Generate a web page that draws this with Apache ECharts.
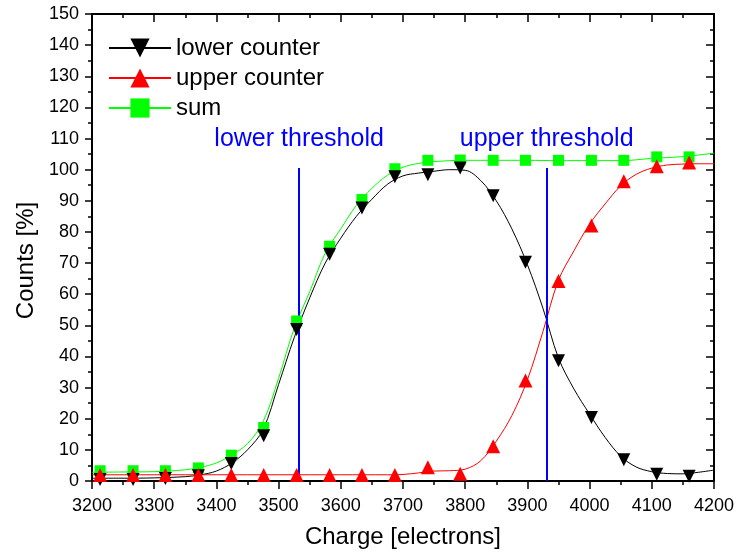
<!DOCTYPE html>
<html>
<head>
<meta charset="utf-8">
<script src="https://cdn.jsdelivr.net/npm/echarts@6/dist/echarts.min.js"></script>
<style>
  html, body { margin: 0; padding: 0; background: #fff; }
  #chart { width: 737px; height: 554px; }
</style>
</head>
<body>
<div id="chart"></div>
<script>
// ---- data ----
const charge = [3213, 3266, 3318, 3371, 3424, 3476, 3529, 3582, 3634, 3687, 3740, 3792, 3845, 3897, 3950, 4003, 4055, 4108, 4160];
const lowerCounter = [0.5, 0.5, 0.8, 1.7, 5.6, 14.5, 48.7, 72.8, 87.7, 97.7, 98.4, 100.5, 91.6, 70.3, 38.6, 20.4, 6.8, 2.2, 1.5];
const upperCounter = [1.9, 1.9, 1.9, 1.9, 1.9, 1.9, 1.9, 1.9, 1.9, 1.9, 4.4, 2.3, 11.2, 32.3, 64.2, 82.1, 96.3, 101.1, 102.3];
const sumCounter   = [3.3, 3.3, 3.3, 4.2, 8.3, 17.2, 51.4, 75.4, 90.4, 100.3, 103.0, 103.1, 103.0, 103.0, 103.0, 103.0, 103.0, 104.1, 104.1];

// fitted curves
const lowerCurveX = [3200, 3250, 3300, 3350, 3375, 3400, 3425, 3450, 3475, 3500, 3525, 3550, 3575, 3600, 3625, 3650, 3675, 3700, 3725, 3750, 3775, 3800, 3825, 3850, 3875, 3900, 3925, 3950, 3975, 4000, 4025, 4050, 4075, 4100, 4125, 4150, 4175, 4200];
const lowerCurveY = [0.9, 0.9, 1.0, 1.4, 2.0, 3.2, 5.8, 10.0, 16.5, 31.0, 46.0, 58.8, 70.0, 78.0, 85.0, 90.5, 95.3, 98.0, 98.9, 99.5, 100.0, 99.8, 96.5, 90.0, 81.0, 69.5, 55.5, 39.5, 29.5, 21.5, 14.0, 8.0, 4.5, 3.0, 2.4, 2.3, 2.8, 3.5];
const upperCurveX = [3200, 3300, 3400, 3500, 3600, 3675, 3700, 3725, 3750, 3775, 3800, 3825, 3850, 3875, 3900, 3925, 3950, 3975, 4000, 4025, 4050, 4075, 4100, 4125, 4150, 4175, 4200];
const upperCurveY = [2.0, 2.0, 2.0, 2.0, 2.0, 2.0, 2.1, 2.6, 3.2, 3.3, 3.8, 6.5, 12.8, 21.0, 32.5, 48.0, 64.5, 74.0, 82.5, 89.0, 94.8, 98.5, 100.5, 101.5, 101.8, 101.9, 101.9];
const sumCurveX = [3200, 3250, 3300, 3350, 3375, 3400, 3425, 3450, 3475, 3500, 3525, 3550, 3575, 3600, 3625, 3650, 3675, 3700, 3725, 3750, 3800, 3850, 3900, 3950, 4000, 4050, 4100, 4150, 4200];
const sumCurveY = [2.8, 2.9, 3.0, 3.6, 4.4, 5.8, 8.4, 12.0, 19.0, 33.0, 49.0, 60.8, 73.2, 81.0, 88.5, 94.0, 98.2, 100.8, 102.0, 102.6, 103.0, 103.0, 103.0, 102.9, 102.9, 102.9, 103.6, 104.2, 105.3];

const thresholdNames = ['lower threshold', 'upper threshold'];
const thresholdCharge = [3533, 3931];
const thresholdTop = 100.5;

const xTicks = { min: 3200, max: 4200, interval: 100 };
const yTicks = { min: 0, max: 150, interval: 10 };

// ---- chart ----
const zip = (xs, ys) => xs.map((x, i) => [x, ys[i]]);
const FONT = 'Arial, "Liberation Sans", sans-serif';

const axisCommon = {
  type: 'value',
  splitLine: { show: false },
  axisLine: { show: true, onZero: false, lineStyle: { color: '#000', width: 2 } },
};

const chart = echarts.init(document.getElementById('chart'), null, { renderer: 'canvas' });

const seriesDefs = [
  { name: 'sum', color: '#00ff00', symbol: 'rect', size: 11, rot: 0, pts: sumCounter, cx: sumCurveX, cy: sumCurveY, z: 2 },
  { name: 'lower counter', color: '#000000', symbol: 'triangle', size: 13, rot: 180, pts: lowerCounter, cx: lowerCurveX, cy: lowerCurveY, z: 3 },
  { name: 'upper counter', color: '#ff0000', symbol: 'triangle', size: 14, rot: 0, pts: upperCounter, cx: upperCurveX, cy: upperCurveY, z: 4 },
];

const series = [];
seriesDefs.forEach(d => {
  series.push({
    name: d.name,
    type: 'line',
    data: zip(d.cx, d.cy),
    smooth: 0.35,
    showSymbol: false,
    symbol: d.symbol,
    symbolRotate: d.rot,
    color: d.color,
    lineStyle: { color: d.color, width: 1 },
    itemStyle: { color: d.color },
    z: d.z,
    silent: true,
    animation: false,
  });
  series.push({
    name: d.name + ' points',
    type: 'scatter',
    data: zip(charge, d.pts),
    symbol: d.symbol,
    symbolSize: d.size,
    symbolRotate: d.rot,
    itemStyle: { color: d.color, opacity: 1 },
    z: d.z + 3,
    silent: true,
    animation: false,
  });
});

series.push({
  name: 'thresholds',
  type: 'line',
  data: [],
  animation: false,
  markLine: {
    silent: true,
    symbol: ['none', 'none'],
    animation: false,
    lineStyle: { color: '#0000ff', width: 2, type: 'solid' },
    label: {
      show: true,
      position: 'end',
      distance: 17,
      color: '#0000ff',
      fontSize: 25,
      fontFamily: FONT,
      formatter: p => p.data.labelText || '',
    },
    data: thresholdCharge.map((c, i) => [
      { coord: [c, 0], labelText: thresholdNames[i] },
      { coord: [c, thresholdTop], labelText: thresholdNames[i] },
    ]),
  },
  z: 1,
});

chart.setOption({
  animation: false,
  backgroundColor: '#fff',
  grid: { left: 92, right: 20, top: 14, bottom: 72 },
  legend: {
    data: ['lower counter', 'upper counter', 'sum'],
    orient: 'vertical',
    left: 103,
    top: 31,
    itemWidth: 62,
    itemHeight: 24,
    itemGap: 6,
    textStyle: { fontSize: 24, fontFamily: FONT, color: '#000' },
  },
  xAxis: [
    Object.assign({}, axisCommon, {
      position: 'bottom',
      min: xTicks.min, max: xTicks.max, interval: xTicks.interval,
      name: 'Charge [electrons]',
      nameLocation: 'middle',
      nameGap: 44,
      nameTextStyle: { fontSize: 24, fontFamily: FONT, color: '#000' },
      axisTick: { show: true, inside: false, length: 8, lineStyle: { color: '#000', width: 1.5 } },
      minorTick: { show: true, splitNumber: 2, length: 4, lineStyle: { color: '#000', width: 1.5 } },
      axisLabel: { fontSize: 18, fontFamily: FONT, color: '#000', margin: 16, formatter: v => String(v) },
    }),
    Object.assign({}, axisCommon, {
      position: 'top',
      min: xTicks.min, max: xTicks.max, interval: xTicks.interval,
      axisTick: { show: true, inside: true, length: 8, lineStyle: { color: '#000', width: 1.5 } },
      minorTick: { show: true, splitNumber: 2, length: 4, lineStyle: { color: '#000', width: 1.5 } },
      axisLabel: { show: false },
    }),
  ],
  yAxis: [
    Object.assign({}, axisCommon, {
      position: 'left',
      min: yTicks.min, max: yTicks.max, interval: yTicks.interval,
      name: 'Counts [%]',
      nameLocation: 'middle',
      nameGap: 46,
      nameTextStyle: { fontSize: 24, fontFamily: FONT, color: '#000', padding: [0, 26, 0, 0] },
      axisTick: { show: true, inside: false, length: 7, lineStyle: { color: '#000', width: 1.5 } },
      minorTick: { show: true, splitNumber: 2, length: 4, lineStyle: { color: '#000', width: 1.5 } },
      axisLabel: { fontSize: 18, fontFamily: FONT, color: '#000', margin: 13 },
    }),
    Object.assign({}, axisCommon, {
      position: 'right',
      min: yTicks.min, max: yTicks.max, interval: yTicks.interval,
      axisTick: { show: true, inside: true, length: 8, lineStyle: { color: '#000', width: 1.5 } },
      minorTick: { show: true, splitNumber: 2, length: 4, lineStyle: { color: '#000', width: 1.5 } },
      axisLabel: { show: false },
    }),
  ],
  series: series,
});
</script>
</body>
</html>
